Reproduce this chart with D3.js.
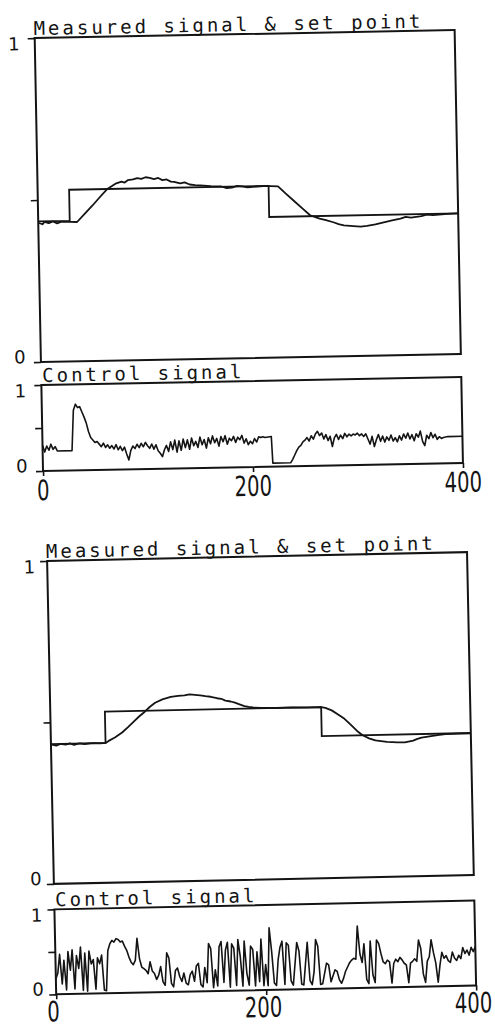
<!DOCTYPE html>
<html><head><meta charset="utf-8">
<script src="https://cdn.jsdelivr.net/npm/d3@7"></script>
<style>body{margin:0;background:#fff}svg{display:block}</style>
</head><body><svg id="c" width="495" height="1027"></svg>
<script>
// ---------- data ----------
const xTicks = [0, 200, 400];
const xTickLabels = ["0", "200", "400"];
const yTicks = [0, 0.5, 1];
const yTickLabels = ["0", "", "1"];
const titleMeasured = "Measured signal & set point";
const titleControl = "Control signal";

const setpoint1 = [[0,0.434],[30,0.434],[30,0.53],[220,0.53],[220,0.434],[400,0.434]];
const measured1 = [[0,0.43],[4,0.425],[6,0.432],[10,0.428],[14,0.433],[18,0.427],[22,0.432],[30,0.431],[37,0.43],[45,0.457],[52,0.48],[59,0.505],[66,0.529],[75,0.547],[80,0.552],[83,0.549],[86,0.556],[91,0.558],[95,0.562],[99,0.559],[103,0.564],[107,0.562],[111,0.558],[115,0.561],[119,0.554],[123,0.556],[127,0.549],[130,0.548],[136,0.543],[140,0.546],[145,0.539],[150,0.537],[155,0.536],[165,0.533],[175,0.531],[180,0.526],[185,0.527],[190,0.532],[195,0.530],[200,0.527],[205,0.528],[215,0.530],[222,0.529],[229,0.528],[236,0.506],[244,0.482],[252,0.458],[259,0.437],[264,0.431],[268,0.426],[274,0.421],[281,0.414],[286,0.408],[291,0.404],[300,0.401],[307,0.399],[313,0.401],[321,0.405],[329,0.411],[337,0.416],[345,0.421],[350,0.426],[355,0.424],[365,0.428],[370,0.432],[376,0.43],[390,0.433],[400,0.434]];
const control1 = [[0,.30],[2,.22],[4,.29],[6,.24],[8,.31],[10,.25],[12,.28],[14,.23],[28,.23],[30,.70],[32,.77],[34,.73],[36,.74],[38,.68],[40,.62],[42,.55],[44,.45],[46,.38],[48,.35],[50,.32],[52,.33],[54,.30],[56,.27],[58,.31],[60,.26],[62,.29],[64,.25],[66,.28],[68,.24],[70,.29],[72,.23],[74,.27],[76,.22],[78,.26],[80,.18],[82,.11],[84,.22],[86,.27],[88,.24],[90,.29],[92,.25],[94,.30],[96,.26],[98,.31],[100,.27],[102,.24],[104,.29],[106,.23],[108,.28],[110,.21],[112,.18],[114,.14],[116,.22],[118,.27],[120,.20],[122,.31],[124,.22],[126,.33],[128,.19],[130,.32],[132,.21],[134,.34],[136,.24],[138,.33],[140,.22],[142,.35],[144,.26],[146,.31],[148,.24],[150,.36],[152,.27],[154,.33],[156,.23],[158,.35],[160,.28],[162,.37],[164,.29],[166,.34],[168,.25],[170,.36],[172,.30],[174,.37],[176,.27],[178,.34],[180,.31],[182,.36],[184,.29],[186,.35],[188,.32],[190,.37],[192,.28],[194,.33],[196,.26],[198,.30],[200,.27],[202,.33],[204,.29],[206,.35],[208,.34],[210,.35],[212,.34],[218,.35],[219,.04],[236,.04],[238,.08],[240,.13],[242,.18],[244,.22],[246,.24],[248,.28],[250,.30],[252,.33],[254,.29],[256,.35],[258,.31],[260,.37],[262,.40],[264,.35],[266,.38],[268,.31],[270,.36],[272,.29],[274,.34],[276,.22],[278,.32],[280,.36],[282,.30],[284,.35],[286,.31],[288,.37],[290,.33],[292,.36],[294,.34],[296,.36],[298,.35],[300,.37],[302,.34],[304,.36],[306,.33],[308,.36],[310,.30],[312,.24],[314,.33],[316,.21],[318,.29],[320,.35],[322,.27],[324,.33],[326,.26],[328,.32],[330,.28],[332,.34],[334,.27],[336,.31],[338,.26],[340,.33],[342,.28],[344,.35],[346,.30],[348,.36],[350,.29],[352,.34],[354,.27],[356,.35],[358,.31],[360,.38],[362,.26],[364,.21],[366,.33],[368,.29],[370,.36],[372,.30],[374,.34],[376,.28],[378,.31],[380,.29],[382,.30],[386,.31],[400,.31]];

const setpoint2 = [[0,0.433],[52,0.433],[52,0.53],[258,0.53],[258,0.44],[400,0.44]];
const measured2 = [[0,0.432],[5,0.428],[9,0.433],[14,0.43],[18,0.434],[22,0.429],[27,0.433],[32,0.431],[40,0.433],[47,0.432],[52,0.433],[55,0.439],[61,0.449],[68,0.464],[74,0.481],[80,0.499],[85,0.514],[90,0.527],[95,0.542],[100,0.554],[107,0.564],[115,0.571],[122,0.574],[128,0.575],[133,0.578],[138,0.576],[143,0.574],[148,0.571],[153,0.569],[159,0.564],[163,0.562],[167,0.556],[172,0.553],[176,0.549],[181,0.543],[185,0.538],[189,0.535],[193,0.533],[201,0.531],[215,0.530],[230,0.531],[245,0.529],[258,0.530],[262,0.527],[268,0.519],[274,0.506],[280,0.492],[286,0.473],[292,0.453],[297,0.44],[303,0.43],[309,0.423],[320,0.418],[330,0.416],[337,0.415],[345,0.42],[349,0.425],[353,0.429],[362,0.433],[370,0.436],[376,0.438],[388,0.439],[400,0.439]];
const control2 = [[0,.18],[2,.25],[4,.47],[6,.12],[8,.40],[10,.05],[12,.50],[14,.28],[16,.52],[18,.06],[20,.45],[22,.30],[24,.55],[26,.04],[28,.48],[30,.03],[32,.50],[34,.35],[36,.40],[38,.05],[40,.42],[42,.35],[44,.45],[46,.04],[48,.03],[50,.50],[52,.58],[54,.62],[56,.60],[58,.64],[60,.63],[62,.60],[64,.61],[66,.55],[68,.50],[70,.42],[72,.36],[74,.33],[76,.38],[78,.64],[80,.40],[82,.30],[84,.28],[86,.26],[88,.22],[90,.36],[92,.25],[94,.22],[96,.15],[98,.20],[100,.30],[102,.12],[104,.08],[106,.46],[108,.40],[110,.10],[112,.06],[114,.25],[116,.28],[118,.18],[120,.12],[122,.22],[124,.10],[126,.08],[128,.20],[130,.24],[132,.12],[134,.30],[136,.33],[138,.08],[140,.05],[142,.28],[144,.10],[146,.56],[148,.50],[150,.04],[152,.25],[154,.06],[156,.52],[158,.58],[160,.10],[162,.48],[164,.57],[166,.04],[168,.55],[170,.50],[172,.06],[174,.60],[176,.40],[178,.05],[180,.58],[182,.20],[184,.06],[186,.52],[188,.48],[190,.05],[192,.45],[194,.10],[196,.60],[198,.05],[200,.30],[202,.05],[204,.73],[206,.45],[208,.08],[210,.05],[212,.35],[214,.50],[216,.57],[218,.06],[220,.55],[222,.52],[224,.10],[226,.05],[228,.30],[230,.55],[232,.45],[234,.06],[236,.05],[238,.30],[240,.55],[242,.10],[244,.05],[246,.20],[248,.58],[250,.50],[252,.05],[254,.06],[256,.18],[258,.30],[260,.28],[262,.08],[264,.15],[266,.22],[268,.20],[270,.10],[272,.06],[274,.12],[276,.20],[278,.25],[280,.30],[282,.33],[284,.35],[286,.34],[288,.73],[290,.40],[292,.30],[294,.52],[296,.10],[298,.05],[300,.55],[302,.15],[304,.06],[306,.56],[308,.52],[310,.40],[312,.30],[314,.28],[316,.32],[318,.30],[320,.05],[322,.28],[324,.33],[326,.30],[328,.35],[330,.32],[332,.28],[334,.26],[336,.05],[338,.28],[340,.30],[342,.33],[344,.30],[346,.55],[348,.45],[350,.15],[352,.05],[354,.30],[356,.35],[358,.55],[360,.40],[362,.28],[364,.05],[366,.25],[368,.40],[370,.33],[372,.36],[374,.30],[376,.28],[378,.40],[380,.33],[382,.30],[384,.36],[386,.32],[388,.45],[390,.38],[392,.42],[394,.36],[396,.45],[398,.40],[400,.46]];

// ---------- layout ----------
const svg = d3.select("#c");
const ink = "#141414";
const charts = [
  {x0:39, x1:459, mTop:34, mBot:358, cTop:381, cBot:467, angle:-1.1, cx:250, cy:260, lab:-21, xl:0, xb:29,
   sp:setpoint1, me:measured1, ct:control1},
  {x0:52.8, x1:472.8, mTop:556.5, mBot:879.5, cTop:905, cBot:990, angle:-1.2, cx:262, cy:830, lab:-18, xl:-3, xb:27,
   sp:setpoint2, me:measured2, ct:control2}
];

charts.forEach(c => {
  const g = svg.append("g").attr("transform", `rotate(${c.angle},${c.cx},${c.cy})`);
  const x = d3.scaleLinear().domain([0, 400]).range([c.x0, c.x1]);
  const yM = d3.scaleLinear().domain([0, 1]).range([c.mBot, c.mTop]);
  const yC = d3.scaleLinear().domain([0, 1]).range([c.cBot, c.cTop]);

  [[yM, c.mTop, c.mBot], [yC, c.cTop, c.cBot]].forEach(([y, t, b]) => {
    g.append("rect").attr("x", c.x0).attr("y", t).attr("width", c.x1 - c.x0).attr("height", b - t)
      .attr("fill", "none").attr("stroke", ink).attr("stroke-width", 2);
    const ax = g.append("g").attr("transform", `translate(${c.x0},0)`)
      .call(d3.axisLeft(y).tickValues(yTicks).tickSize(7).tickFormat(""));
    ax.select(".domain").remove();
    ax.selectAll("line").attr("stroke", ink).attr("stroke-width", 1.6);
    yTicks.forEach((v, i) => {
      if (!yTickLabels[i]) return;
      g.append("text").attr("x", c.x0 + c.lab).attr("y", y(v) + (v === 1 ? 12 : 1))
        .attr("text-anchor", "middle").attr("font-family", "DejaVu Sans").attr("font-size", 18)
        .attr("fill", ink).text(yTickLabels[i]);
    });
  });

  const xa = g.append("g").attr("transform", `translate(0,${c.cBot})`)
    .call(d3.axisBottom(x).tickValues(xTicks).tickSize(5).tickFormat(""));
  xa.select(".domain").remove();
  xa.selectAll("line").attr("stroke", ink).attr("stroke-width", 1.6);
  xTicks.forEach((v, i) => {
    g.append("text").attr("transform", `translate(${x(v) + c.xl},${c.cBot + c.xb}) scale(0.7,1)`)
      .attr("text-anchor", "middle").attr("font-family", "DejaVu Sans").attr("font-size", 28)
      .attr("fill", ink).text(xTickLabels[i]);
  });

  const titleStyle = s => s.attr("font-family", "DejaVu Sans Mono").attr("font-size", 19)
    .attr("letter-spacing", 3.0).attr("fill", ink);
  g.append("text").attr("x", c.x0 - 1).attr("y", c.mTop - 3).call(titleStyle).text(titleMeasured);
  g.append("text").attr("x", c.x0 + 1).attr("y", c.cTop - 3).call(titleStyle).text(titleControl);

  const lineM = d3.line().x(d => x(d[0])).y(d => yM(d[1]));
  const lineC = d3.line().x(d => x(d[0])).y(d => yC(d[1]));
  g.append("path").attr("d", lineM(c.sp)).attr("fill", "none").attr("stroke", ink).attr("stroke-width", 1.8);
  g.append("path").attr("d", lineM(c.me)).attr("fill", "none").attr("stroke", ink).attr("stroke-width", 1.8)
    .attr("stroke-linejoin", "round");
  g.append("path").attr("d", lineC(c.ct)).attr("fill", "none").attr("stroke", ink).attr("stroke-width", 1.6)
    .attr("stroke-linejoin", "round");
});
</script>
</body></html>
